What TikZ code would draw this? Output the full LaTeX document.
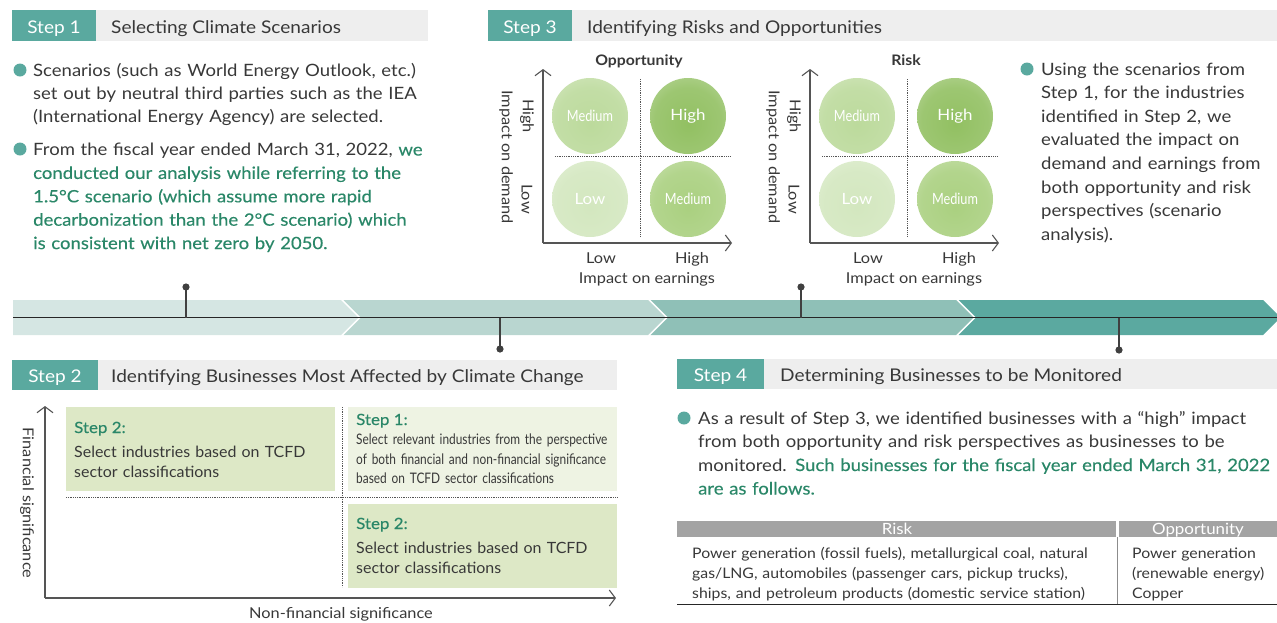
\documentclass[tikz,border=0pt]{standalone}
\usepackage{fontspec}
\setmainfont{Lato}[FakeStretch=1.09]
\newfontfamily\narrowfont[FakeStretch=0.82]{Lato}
\newfontfamily\boxfont[FakeStretch=1.03]{Lato}
\newfontfamily\greenfont[FakeStretch=1.09,FakeBold=0.3]{Lato}
\usetikzlibrary{arrows.meta}

\definecolor{stepteal}{HTML}{5AA99F}
\definecolor{barbg}{HTML}{EEEEEE}
\definecolor{inktext}{HTML}{383838}
\definecolor{greentext}{HTML}{2A8768}
\definecolor{bandA}{HTML}{D5E6E3}
\definecolor{bandB}{HTML}{B9D6D0}
\definecolor{bandC}{HTML}{8FC0B7}
\definecolor{bandD}{HTML}{5BA9A0}
\definecolor{boxdark}{HTML}{DDE8C6}
\definecolor{boxlight}{HTML}{EEF3E3}
\definecolor{tablehead}{HTML}{A3A3A3}
\definecolor{axisgray}{HTML}{555555}
\definecolor{highin}{HTML}{92C062}
\definecolor{medbin}{HTML}{AAD080}
\definecolor{medain}{HTML}{BCDA9C}
\definecolor{lowin}{HTML}{D3E7BF}

\pgfdeclareradialshading{blobhigh}{\pgfpoint{0bp}{-6bp}}{color(0bp)=(highin); color(22bp)=(highin!90!white); color(36bp)=(highin!65!white); color(44bp)=(highin!28!white); color(52bp)=(white)}
\pgfdeclareradialshading{blobmedb}{\pgfpoint{0bp}{-6bp}}{color(0bp)=(medbin); color(22bp)=(medbin!90!white); color(36bp)=(medbin!65!white); color(44bp)=(medbin!28!white); color(52bp)=(white)}
\pgfdeclareradialshading{blobmeda}{\pgfpoint{0bp}{-6bp}}{color(0bp)=(medain); color(22bp)=(medain!90!white); color(36bp)=(medain!65!white); color(44bp)=(medain!28!white); color(52bp)=(white)}
\pgfdeclareradialshading{bloblow}{\pgfpoint{0bp}{-6bp}}{color(0bp)=(lowin); color(22bp)=(lowin!90!white); color(36bp)=(lowin!65!white); color(44bp)=(lowin!28!white); color(52bp)=(white)}

\tikzset{
  stepnum/.style={anchor=base, inner sep=0, text=white, font=\fontsize{17.5}{21}\selectfont},
  steptitle/.style={anchor=base west, inner sep=0, text=inktext, font=\fontsize{17.5}{21}\selectfont},
  bodytext/.style={anchor=base west, inner sep=0, text=inktext, text width=440, align=left, font=\fontsize{17}{23.4}\selectfont},
  boxtext/.style={anchor=base west, inner sep=0, text=inktext, text width=260, align=left, font=\fontsize{15.5}{20.5}\boxfont},
  boxhead/.style={anchor=base west, inner sep=0, text=greentext, font=\fontsize{15.5}{19}\greenfont},
  smalltext/.style={inner sep=0, text=inktext, font=\fontsize{15}{18}\selectfont},
  blob/.style={circle, minimum size=76, inner sep=0, text=white, font=\fontsize{15.5}{18}\selectfont},
  axis/.style={axisgray, line width=1.1, -{Straight Barb[length=6,width=16,line width=1.1]}},
  split/.style={axisgray, line width=0.8, densely dotted},
  pin/.style={black!75, line width=1.4},
  bullet/.style={fill=stepteal}
}

\begin{document}
\begin{tikzpicture}[x=1pt,y=-1pt]
\useasboundingbox (0,0) rectangle (1277,622);

% ---- Step 1
\fill[barbg] (12,10) rectangle (428,41);
\fill[stepteal] (12,10) rectangle (96,41);
\node[stepnum] (s1num) at (54,33.5) {Step 1};
\node[steptitle] (s1title) at (111,33.5) {Selecting Climate Scenarios};
\fill[bullet] (20,70) circle (6.5);
\node[bodytext] (s1a) at (33,76) {Scenarios (such as World Energy Outlook, etc.)\\
set out by neutral third parties such as the IEA\\
(International Energy Agency) are selected.};
\fill[bullet] (20,149) circle (6.5);
\node[bodytext] (s1b) at (33,155.5) {From the fiscal year ended March 31, 2022, \greenfont\color{greentext}we\\
conducted our analysis while referring to the\\
1.5°C scenario (which assume more rapid\\
decarbonization than the 2°C scenario) which\\
is consistent with net zero by 2050.};

% ---- Step 3
\fill[barbg] (488,10) rectangle (1277,41);
\fill[stepteal] (488,10) rectangle (572,41);
\node[stepnum] (s3num) at (530,33.5) {Step 3};
\node[steptitle] (s3title) at (587,33.5) {Identifying Risks and Opportunities};

\foreach \dx/\mtitle/\nm in {0/Opportunity/opp,267/Risk/risk}{
\begin{scope}[xshift=\dx]
\node[smalltext, anchor=base, font=\fontsize{14.5}{18}\selectfont\bfseries] (\nm title) at (639,65) {\mtitle};
\coordinate (\nm o) at (543,243);
\coordinate (\nm y) at (543,69);
\coordinate (\nm x) at (732,243);
\draw[axis] (\nm o) -- (\nm y);
\draw[axis] (\nm o) -- (\nm x);
\coordinate (\nm vt) at (640,79);
\coordinate (\nm vb) at (640,237);
\coordinate (\nm hl) at (555,156);
\coordinate (\nm hr) at (730,156);
\draw[split] (\nm vt) -- (\nm vb);
\draw[split] (\nm hl) -- (\nm hr);
\node[blob, shading=blobmeda] (\nm tl) at (590,116) {\narrowfont Medium};
\node[blob, shading=blobhigh] (\nm tr) at (688,116) {High};
\node[blob, shading=bloblow] (\nm bl) at (590,199) {Low};
\node[blob, shading=blobmedb] (\nm br) at (688,199) {\narrowfont Medium};
\node[smalltext, rotate=-90] (\nm yhigh) at (527,116) {High};
\node[smalltext, rotate=-90] (\nm ylow) at (527,199) {Low};
\node[smalltext, rotate=-90] (\nm ylab) at (506,157) {Impact on demand};
\node[smalltext, anchor=base] (\nm xlow) at (601,263) {Low};
\node[smalltext, anchor=base] (\nm xhigh) at (692,263) {High};
\node[smalltext, anchor=base] (\nm xlab) at (647,283) {Impact on earnings};
\end{scope}
}

\fill[bullet] (1027,69) circle (6.5);
\node[bodytext, text width=240, font=\fontsize{17}{23.6}\selectfont] (s3a) at (1041,75) {Using the scenarios from\\
Step 1, for the industries\\
identified in Step 2, we\\
evaluated the impact on\\
demand and earnings from\\
both opportunity and risk\\
perspectives (scenario\\
analysis).};

% ---- process band
\fill[bandA] (13,300) -- (341,300) -- (358.5,317.5) -- (341,335) -- (13,335) -- cycle;
\fill[bandB] (343.5,300) -- (648,300) -- (665.5,317.5) -- (648,335) -- (343.5,335) -- (361,317.5) -- cycle;
\fill[bandC] (650.5,300) -- (956,300) -- (973.5,317.5) -- (956,335) -- (650.5,335) -- (668,317.5) -- cycle;
\fill[bandD] (958.5,300) -- (1263,300) -- (1280.5,317.5) -- (1263,335) -- (958.5,335) -- (976,317.5) -- cycle;
\coordinate (bandstart) at (13,317.5);
\coordinate (bandend) at (1277,317.5);
\draw[black!85, line width=1.3] (bandstart) -- (bandend);
\foreach \px/\py/\nm in {186/287/one,500/349/two,801/287/three,1119/350/four}{
  \coordinate (pin\nm) at (\px,317.5);
  \coordinate (dot\nm) at (\px,\py);
  \draw[pin] (pin\nm) -- (dot\nm);
  \fill[black!75] (dot\nm) circle (3.6);
}

% ---- Step 2
\fill[barbg] (12,360) rectangle (617,390);
\fill[stepteal] (12,360) rectangle (98,390);
\node[stepnum] (s2num) at (55,382) {Step 2};
\node[steptitle] (s2title) at (111,382) {Identifying Businesses Most Affected by Climate Change};

\fill[boxdark] (66,407) rectangle (335,491);
\fill[boxlight] (348,407) rectangle (617,491);
\fill[boxdark] (348,504) rectangle (617,588);
\coordinate (s2o) at (45,598);
\coordinate (s2y) at (45,406);
\coordinate (s2x) at (616,598);
\draw[axis] (s2o) -- (s2y);
\draw[axis] (s2o) -- (s2x);
\coordinate (s2vt) at (342,407);
\coordinate (s2vb) at (342,587);
\coordinate (s2hl) at (66,497);
\coordinate (s2hr) at (618,497);
\draw[split] (s2vt) -- (s2vb);
\draw[split] (s2hl) -- (s2hr);

\node[boxhead] (tlhead) at (74,433) {Step 2:};
\node[boxtext] (tltext) at (74,457) {Select industries based on TCFD\\sector classifications};
\node[boxhead] (trhead) at (356,425) {Step 1:};
\node[boxtext, font=\fontsize{14.5}{19.5}\narrowfont] (trtext) at (356,444.5) {Select relevant industries from the perspective\\
of both financial and non-financial significance\\
based on TCFD sector classifications};
\node[boxhead] (brhead) at (356,529) {Step 2:};
\node[boxtext] (brtext) at (356,553) {Select industries based on TCFD\\sector classifications};
\node[smalltext, rotate=-90] (finlab) at (27,503) {Financial significance};
\node[smalltext, anchor=base] (nonfinlab) at (341,618) {Non-financial significance};

% ---- Step 4
\fill[barbg] (677,359) rectangle (1277,389);
\fill[stepteal] (677,359) rectangle (764,389);
\node[stepnum] (s4num) at (720.5,381.5) {Step 4};
\node[steptitle] (s4title) at (780,381.5) {Determining Businesses to be Monitored};
\fill[bullet] (684,418) circle (6.5);
\node[bodytext, text width=590, font=\fontsize{17}{23.5}\selectfont] (s4a) at (698,424) {As a result of Step 3, we identified businesses with a “high” impact\\
from both opportunity and risk perspectives as businesses to be\\
monitored. \greenfont\color{greentext}Such businesses for the fiscal year ended March 31, 2022\\
are as follows.};

\fill[tablehead] (677,521) rectangle (1116,537);
\fill[tablehead] (1118.5,521) rectangle (1277,537);
\node[smalltext, anchor=base, text=white, font=\fontsize{15.5}{18}\selectfont] (riskhead) at (897,534) {Risk};
\node[smalltext, anchor=base, text=white, font=\fontsize{15.5}{18}\selectfont] (opphead) at (1198,534) {Opportunity};
\coordinate (coltop) at (1117,537);
\coordinate (colbot) at (1117,604);
\draw[black!45, line width=1] (coltop) -- (colbot);
\coordinate (rulel) at (677,604.5);
\coordinate (ruler) at (1277,604.5);
\draw[black!85, line width=1.1] (rulel) -- (ruler);
\node[boxtext, text width=430, font=\fontsize{14.5}{20}\selectfont] (riskrows) at (692,558) {Power generation (fossil fuels), metallurgical coal, natural\\
gas/LNG, automobiles (passenger cars, pickup trucks),\\
ships, and petroleum products (domestic service station)};
\node[boxtext, text width=150, font=\fontsize{14.5}{20}\selectfont] (opprows) at (1132,558) {Power generation\\(renewable energy)\\Copper};
\end{tikzpicture}
\end{document}
